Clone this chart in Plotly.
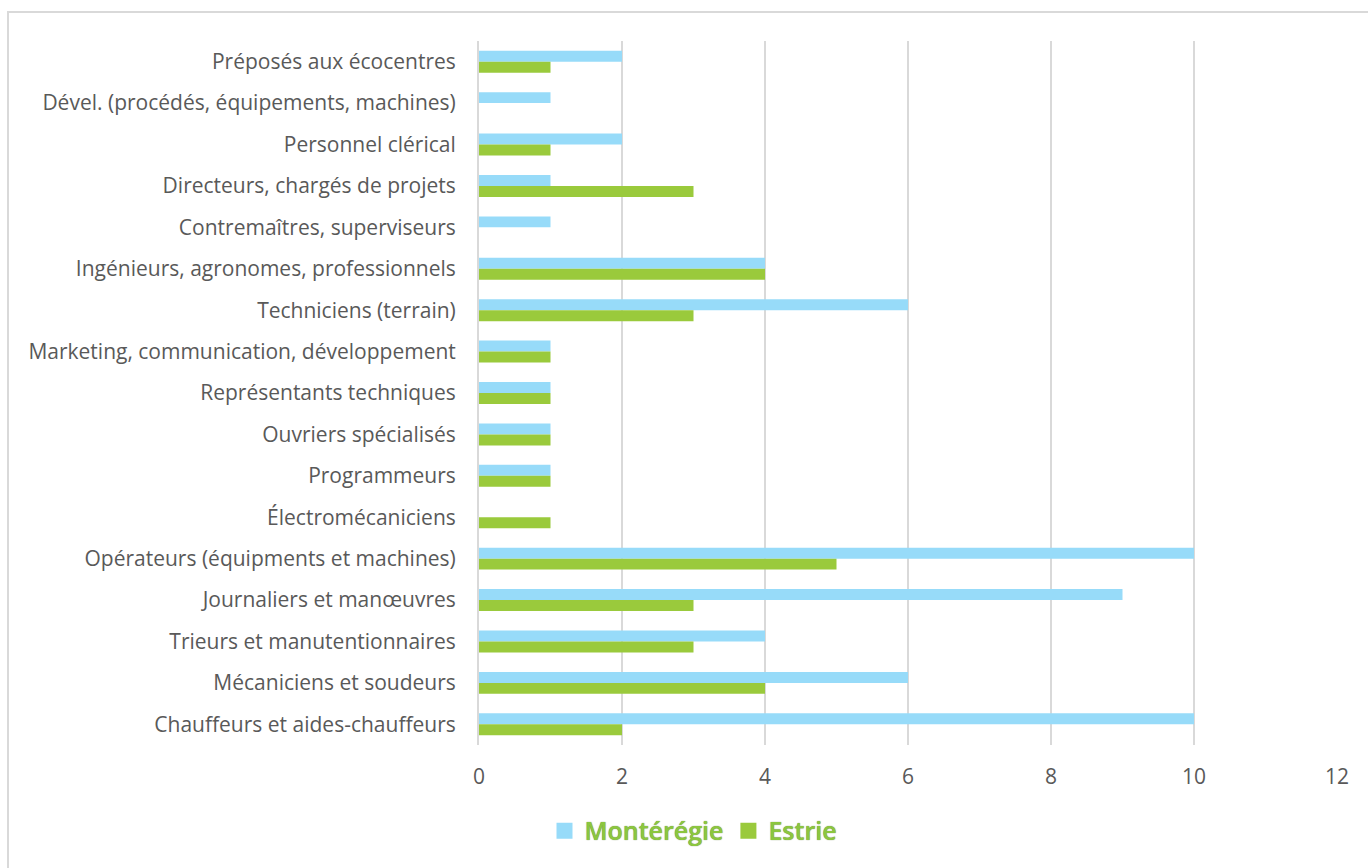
import plotly.graph_objects as go

# Job categories, listed from top to bottom as displayed
categories = [
    "Préposés aux écocentres",
    "Dével. (procédés, équipements, machines)",
    "Personnel clérical",
    "Directeurs, chargés de projets",
    "Contremaîtres, superviseurs",
    "Ingénieurs, agronomes, professionnels",
    "Techniciens (terrain)",
    "Marketing, communication, développement",
    "Représentants techniques",
    "Ouvriers spécialisés",
    "Programmeurs",
    "Électromécaniciens",
    "Opérateurs (équipments et machines)",
    "Journaliers et manœuvres",
    "Trieurs et manutentionnaires",
    "Mécaniciens et soudeurs",
    "Chauffeurs et aides-chauffeurs",
]

monteregie = [2, 1, 2, 1, 1, 4, 6, 1, 1, 1, 1, 0, 10, 9, 4, 6, 10]
estrie = [1, 0, 1, 3, 0, 4, 3, 1, 1, 1, 1, 1, 5, 3, 3, 4, 2]

x_ticks = [0, 2, 4, 6, 8, 10, 12]

BLUE = "#97DBF9"
GREEN = "#9ACA3C"
LABEL_FONT = "Open Sans"

fig = go.Figure()
fig.add_trace(go.Bar(
    y=categories, x=monteregie, name="Montérégie", orientation="h",
    marker=dict(color=BLUE, line=dict(width=0)), showlegend=False,
))
fig.add_trace(go.Bar(
    y=categories, x=estrie, name="Estrie", orientation="h",
    marker=dict(color=GREEN, line=dict(width=0)), showlegend=False,
))

# Legend entries with larger square swatches
for name, color in [("Montérégie", BLUE), ("Estrie", GREEN)]:
    fig.add_trace(go.Scatter(
        x=[None], y=[None], mode="markers", name=name,
        marker=dict(symbol="square", size=16, color=color, line=dict(width=0)),
        showlegend=True, hoverinfo="skip",
    ))

fig.update_layout(
    width=1368, height=868,
    margin=dict(l=479, r=31, t=41, b=123),
    paper_bgcolor="white", plot_bgcolor="white",
    barmode="group", bargap=0.47, bargroupgap=0,
    font=dict(family=LABEL_FONT, size=20, color="#595959"),
    showlegend=True,
    legend=dict(
        orientation="h", x=0.25, xanchor="center", y=-0.122, yanchor="middle",
        font=dict(family=LABEL_FONT, size=25, color="#8CC63F", weight=600,
                  shadow="0px 0px 1px rgba(70,100,25,0.9)"),
        itemsizing="trace", itemwidth=30, traceorder="normal",
        tracegroupgap=0,
    ),
    xaxis=dict(
        range=[0, 12], tickvals=x_ticks, showgrid=True, gridcolor="#D9D9D9",
        gridwidth=2, zeroline=False, showline=False, ticks="",
        ticklabelstandoff=17,
        tickfont=dict(size=21, color="#595959"),
    ),
    yaxis=dict(
        autorange="reversed", showgrid=False, zeroline=False, ticks="",
        showline=True, linecolor="#D9D9D9", linewidth=2,
        ticklabelstandoff=17,
        tickfont=dict(size=21, color="#595959"),
    ),
    shapes=[dict(
        type="rect", xref="paper", yref="paper",
        x0=-471 / 858, x1=1370 / 858 - 479 / 858,
        y0=-140 / 704, y1=(745 - 12) / 704,
        line=dict(color="#D9D9D9", width=2), fillcolor="rgba(0,0,0,0)",
        layer="below",
    )],
)

fig.write_html("out.html")
